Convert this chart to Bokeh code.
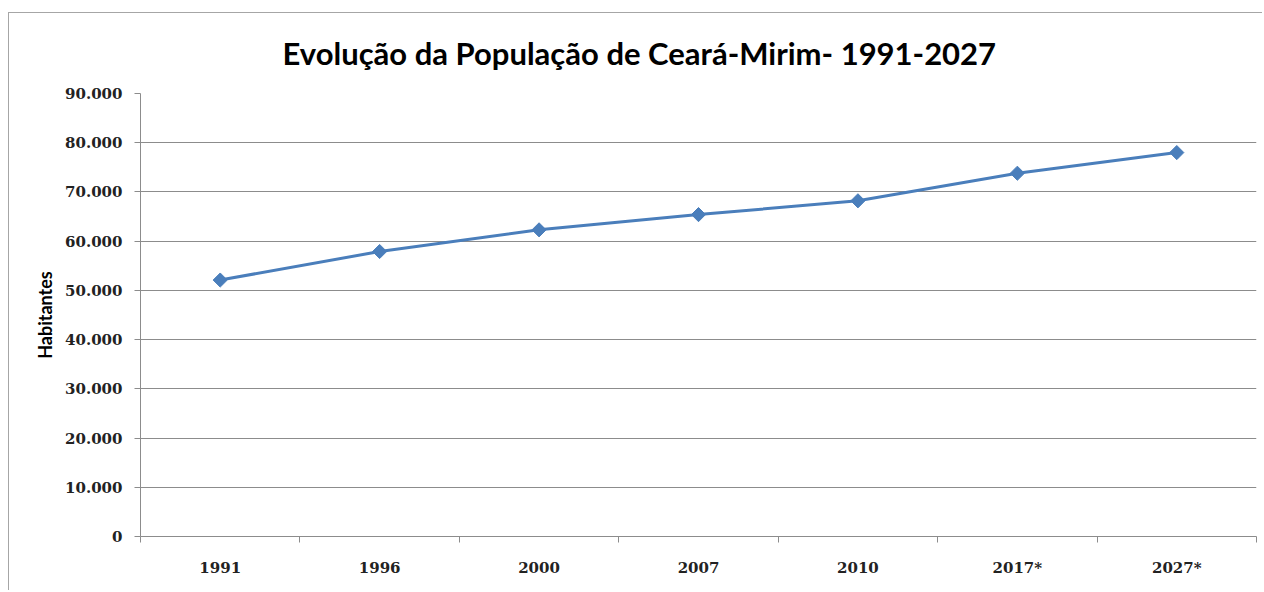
from bokeh.plotting import figure
from bokeh.models import FixedTicker, Range1d
from bokeh.embed import file_html
from bokeh.resources import INLINE
import numpy as np

years = ["1991", "1996", "2000", "2007", "2010", "2017*", "2027*"]
population = [52100, 57900, 62300, 65400, 68200, 73800, 78000]
y_ticks = [0, 10000, 20000, 30000, 40000, 50000, 60000, 70000, 80000, 90000]
y_tick_labels = ["0", "10.000", "20.000", "30.000", "40.000", "50.000",
                 "60.000", "70.000", "80.000", "90.000"]
title_text = "Evolução da População de Ceará-Mirim- 1991-2027"
y_title = "Habitantes"

xpos = np.arange(len(years)) + 0.5

p = figure(width=1254, height=578, output_backend="svg", toolbar_location=None,
           x_range=Range1d(0, len(years)), y_range=Range1d(0, 90000),
           min_border_left=131, min_border_right=7, min_border_top=79,
           min_border_bottom=55)
p.margin = (12, 0, 0, 8)
p.styles = {"border-top": "1px solid #a6a6a6", "border-left": "1px solid #a6a6a6"}
p.outline_line_color = None
p.background_fill_color = "white"
p.border_fill_color = "white"

p.title.text = title_text
p.title.align = "left"
p.title.offset = 142
p.title.text_font = "Lato"
p.title.text_font_style = "bold"
p.title.text_font_size = "31px"
p.title.text_color = "#000000"
p.title.vertical_align = "top"
p.title.standoff = 40

grid_color = "#8c8c8c"
p.xgrid.grid_line_color = None
p.ygrid.grid_line_color = grid_color
p.ygrid.grid_line_width = 1

label_font = "DejaVu Serif"

# y axis
p.yaxis.ticker = FixedTicker(ticks=y_ticks)
p.yaxis.major_label_overrides = {t: l for t, l in zip(y_ticks, y_tick_labels)}
p.yaxis.axis_line_color = grid_color
p.yaxis.major_tick_line_color = grid_color
p.yaxis.major_tick_out = 6
p.yaxis.major_tick_in = 0
p.yaxis.minor_tick_line_color = None
p.yaxis.major_label_text_font = label_font
p.yaxis.major_label_text_font_style = "bold"
p.yaxis.major_label_text_font_size = "15px"
p.yaxis.major_label_text_color = "#222222"
p.yaxis.major_label_standoff = 12
p.yaxis.axis_label = y_title
p.yaxis.axis_label_text_font = "Lato"
p.yaxis.axis_label_text_font_style = "bold"
p.yaxis.axis_label_text_font_size = "18px"
p.yaxis.axis_label_text_color = "#000000"
p.yaxis.axis_label_standoff = 6

# x axis
p.xaxis.ticker = FixedTicker(ticks=list(xpos), minor_ticks=list(range(len(years) + 1)))
p.xaxis.major_label_overrides = {float(x): y for x, y in zip(xpos, years)}
p.xaxis.axis_line_color = grid_color
p.xaxis.major_tick_line_color = None
p.xaxis.major_tick_out = 0
p.xaxis.minor_tick_line_color = grid_color
p.xaxis.minor_tick_out = 6
p.xaxis.minor_tick_in = 0
p.xaxis.major_label_text_font = label_font
p.xaxis.major_label_text_font_style = "bold"
p.xaxis.major_label_text_font_size = "15px"
p.xaxis.major_label_text_color = "#222222"
p.xaxis.major_label_standoff = 16

color = "#4a7ebb"
p.line(xpos, population, line_color=color, line_width=3)
p.scatter(xpos, population, marker="square", size=10, angle=np.pi / 4,
          fill_color=color, line_color=color)

open("out.html", "w").write(file_html(p, INLINE))
